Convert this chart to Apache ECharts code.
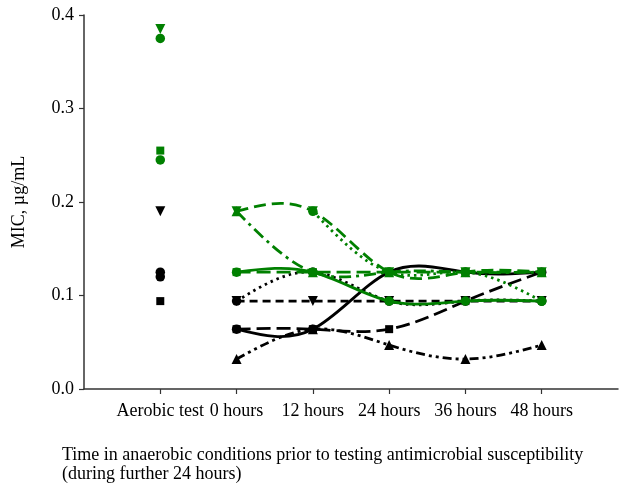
<!DOCTYPE html>
<html><head><meta charset="utf-8">
<script src="https://cdn.jsdelivr.net/npm/echarts@6/dist/echarts.min.js"></script>
<style>html,body{margin:0;padding:0;background:#fff}#c{width:624px;height:485px}</style>
</head><body><div id="c"></div>
<script>
// Categories (x positions 1..6 on the axis)
const categories = ['Aerobic test', '0 hours', '12 hours', '24 hours', '36 hours', '48 hours'];
const yTickLabels = ['0.0', '0.1', '0.2', '0.3', '0.4'];

// Values per category: [Aerobic, 0h, 12h, 24h, 36h, 48h]
const blackSolid      = [0.125, 0.064, 0.064, 0.125, 0.125, 0.125];
const blackDotted     = [0.12,  0.094, 0.125, 0.094, 0.094, 0.094];
const blackShortDash  = [0.19,  0.094, 0.094, 0.094, 0.094, 0.094];
const blackLongDash   = [0.094, 0.064, 0.064, 0.064, 0.094, 0.125];
const blackDashDotDot = [null,  0.032, 0.064, 0.047, 0.032, 0.047];
const greenDashed     = [0.385, 0.19,  0.19,  0.125, 0.125, 0.125];
const greenDotted     = [0.375, null,  0.19,  0.125, 0.125, 0.094];
const greenDashDot    = [null,  0.19,  0.125, 0.125, 0.125, 0.125];
const greenSolid      = [0.245, 0.125, 0.125, 0.094, 0.094, 0.094];
const greenLongDash   = [0.255, 0.125, 0.125, 0.125, 0.125, 0.125];

const FONT = '"Liberation Serif", "Times New Roman", serif';
const BLACK = '#000000';
const GREEN = '#008000';

const tickPositions = categories.map((c, i) => i + 1);

function symbolOpts(symbol) {
  if (symbol === 'down') return { symbol: 'triangle', symbolRotate: 180, symbolSize: 10 };
  if (symbol === 'up') return { symbol: 'triangle', symbolRotate: 0, symbolSize: 10 };
  if (symbol === 'rect') return { symbol: 'rect', symbolRotate: 0, symbolSize: 8 };
  return { symbol: 'circle', symbolRotate: 0, symbolSize: 9.5 };
}

// Natural cubic spline through (xs, ys) expressed as cubic Bezier segments in data space
function splineSegments(xs, ys) {
  const n = xs.length;
  const h = [];
  for (let i = 0; i < n - 1; i++) h.push(xs[i + 1] - xs[i]);
  const M = new Array(n).fill(0);
  if (n > 2) {
    const a = [], b = [], c = [], d = [];
    for (let i = 1; i < n - 1; i++) {
      a.push(h[i - 1]);
      b.push(2 * (h[i - 1] + h[i]));
      c.push(h[i]);
      d.push(6 * ((ys[i + 1] - ys[i]) / h[i] - (ys[i] - ys[i - 1]) / h[i - 1]));
    }
    const m = b.length;
    for (let i = 1; i < m; i++) {
      const w = a[i] / b[i - 1];
      b[i] -= w * c[i - 1];
      d[i] -= w * d[i - 1];
    }
    const sol = new Array(m);
    sol[m - 1] = d[m - 1] / b[m - 1];
    for (let i = m - 2; i >= 0; i--) sol[i] = (d[i] - c[i] * sol[i + 1]) / b[i];
    for (let i = 0; i < m; i++) M[i + 1] = sol[i];
  }
  const segs = [];
  for (let i = 0; i < n - 1; i++) {
    const hi = h[i];
    const slope = (ys[i + 1] - ys[i]) / hi;
    const d0 = slope - hi * (2 * M[i] + M[i + 1]) / 6;
    const d1 = slope + hi * (M[i] + 2 * M[i + 1]) / 6;
    segs.push([
      [xs[i], ys[i]],
      [xs[i] + hi / 3, ys[i] + d0 * hi / 3],
      [xs[i + 1] - hi / 3, ys[i + 1] - d1 * hi / 3],
      [xs[i + 1], ys[i + 1]]
    ]);
  }
  return segs;
}

function makeSeries(values, color, lineType, symbol, zLine, zMarker) {
  const lineData = [];
  for (let i = 1; i < values.length; i++) if (values[i] != null) lineData.push([i + 1, values[i]]);
  const xs = lineData.map(p => p[0]);
  const ys = lineData.map(p => p[1]);
  const segs = splineSegments(xs, ys);
  const curve = {
    type: 'custom',
    data: lineData,
    z: zLine,
    silent: true,
    animation: false,
    renderItem: function (params, api) {
      if (params.dataIndex !== 0) return null;
      const p0 = api.coord(segs[0][0]);
      let path = 'M' + p0[0] + ' ' + p0[1];
      for (const s of segs) {
        const c1 = api.coord(s[1]), c2 = api.coord(s[2]), p1 = api.coord(s[3]);
        path += ' C' + c1[0] + ' ' + c1[1] + ' ' + c2[0] + ' ' + c2[1] + ' ' + p1[0] + ' ' + p1[1];
      }
      return {
        type: 'path',
        shape: { pathData: path },
        style: {
          stroke: color,
          fill: 'none',
          lineWidth: 2.8,
          lineDash: lineType === 'solid' ? null : lineType
        }
      };
    }
  };
  const markerData = [];
  values.forEach((v, i) => { if (v != null) markerData.push([i + 1, v]); });
  const markers = Object.assign({
    type: 'scatter',
    data: markerData,
    itemStyle: { color: color, opacity: 1 },
    animation: false,
    z: zMarker
  }, symbolOpts(symbol));
  return [curve, markers];
}

const series = [].concat(
  makeSeries(blackSolid, BLACK, 'solid', 'circle', 2, 4),
  makeSeries(blackDotted, BLACK, [2.5, 4], 'circle', 2, 4),
  makeSeries(blackShortDash, BLACK, [8, 5], 'down', 2, 3),
  makeSeries(blackLongDash, BLACK, [14, 6], 'rect', 2, 3),
  makeSeries(blackDashDotDot, BLACK, [9, 4, 3, 4, 3, 4], 'up', 2, 3),
  makeSeries(greenDashed, GREEN, [12, 6], 'down', 5, 7),
  makeSeries(greenDotted, GREEN, [2.5, 4], 'circle', 5, 8),
  makeSeries(greenDashDot, GREEN, [12, 5, 3, 5], 'up', 5, 7),
  makeSeries(greenSolid, GREEN, 'solid', 'circle', 5, 8),
  makeSeries(greenLongDash, GREEN, [14, 6], 'rect', 5, 7)
);

const chart = echarts.init(document.getElementById('c'), null, { renderer: 'canvas' });
chart.setOption({
  backgroundColor: '#ffffff',
  animation: false,
  title: {
    text: 'Time in anaerobic conditions prior to testing antimicrobial susceptibility\n(during further 24 hours)',
    left: 57,
    top: 441,
    textStyle: { fontFamily: FONT, fontSize: 18, fontWeight: 'normal', color: '#000', lineHeight: 19 }
  },
  grid: { left: 84, right: 6, top: 15, bottom: 96, containLabel: false },
  xAxis: {
    type: 'value',
    min: 0, max: 7, interval: 1,
    axisLine: { show: true, lineStyle: { color: '#333', width: 1.5 } },
    axisTick: { show: true, customValues: tickPositions, length: 5, lineStyle: { color: '#333', width: 1.2 } },
    axisLabel: {
      customValues: tickPositions,
      formatter: v => categories[Math.round(v) - 1] || '',
      fontFamily: FONT, fontSize: 18, color: '#000', margin: 13
    },
    splitLine: { show: false }
  },
  yAxis: {
    type: 'value',
    min: 0, max: 0.4, interval: 0.1,
    name: 'MIC, µg/mL',
    nameLocation: 'middle',
    nameGap: 56,
    nameRotate: 90,
    nameTextStyle: { fontFamily: FONT, fontSize: 18, color: '#000' },
    axisLine: { show: true, lineStyle: { color: '#333', width: 1.5 } },
    axisTick: { show: true, length: 5, lineStyle: { color: '#333', width: 1.2 } },
    axisLabel: {
      formatter: v => yTickLabels[Math.round(v * 10)],
      fontFamily: FONT, fontSize: 18, color: '#000', margin: 10
    },
    splitLine: { show: false }
  },
  series: series
});
</script>
</body></html>
